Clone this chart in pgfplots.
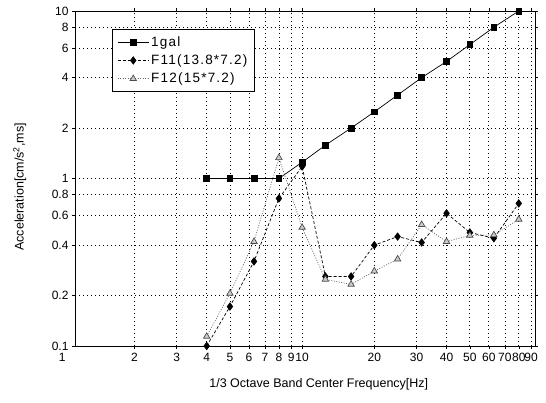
\documentclass[border=0pt]{standalone}
\usepackage{pgfplots}
\pgfplotsset{compat=1.18}
\usepackage{fontspec}
\setmainfont{Liberation Sans}
\newfontfamily\spaced[LetterSpace=9]{Liberation Sans}
\begin{document}
\begin{tikzpicture}
\useasboundingbox (-75pt,-57pt) rectangle (471pt,346pt);
\begin{axis}[
  at={(0,0)}, anchor=south west,
  scale only axis, width=460pt, height=335pt,
  xmode=log, ymode=log,
  xmin=1.13, xmax=93.5, ymin=0.1, ymax=10,
  clip=false,
  xtick={2,3,4,5,6,7,8,9,10,20,30,40,50,60,70,80,90},
  xticklabels={2,3,4,5,6,7,8,9,10,20,30,40,50,60,70,80,90},
  ytick={0.1,0.2,0.4,0.6,0.8,1,2,4,6,8,10},
  yticklabels={0.1,0.2,0.4,0.6,0.8,1,2,4,6,8,10},
  minor xtick={}, minor ytick={},
  tick label style={font=\fontsize{12}{13}\selectfont},
  xticklabel style={yshift=-1pt, inner xsep=0pt},
  tick align=outside, major tick length=3pt,
  tick style={black, line width=0.5pt},
  xmajorgrids, ymajorgrids,
  grid style={black, line width=0.6pt, dash pattern=on 0.8pt off 3.2pt},
  axis line style={black, line width=0.9pt},
  xlabel={1/3 Octave Band Center Frequency[Hz]},
  ylabel={Acceleration[cm/s\textsuperscript{2},ms]},
  label style={font=\fontsize{12.5}{14}\selectfont},
  xlabel style={at={(axis description cs:0.53,-0.113)}, anchor=center},
  ylabel style={at={(axis description cs:-0.12,0.475)}, anchor=center},
  legend style={at={(0.080,0.946)}, anchor=north west, draw=black, line width=0.9pt,
    font=\spaced\fontsize{13.5}{15}\selectfont, row sep=3pt, inner xsep=5pt, inner ysep=5pt, fill=white},
  legend cell align=left,
  legend image code/.code={\draw[mark repeat=2, mark phase=2, #1] plot coordinates {(0cm,0cm) (0.55cm,0cm) (1.1cm,0cm)};},
]
\addplot[black, line width=0.7pt, mark=square*, mark size=2.9pt, mark options={solid}]
  coordinates {(4,1.0) (5,1.0) (6.3,1.0) (8,1.0) (10,1.25) (12.5,1.58) (16,2.0) (20,2.5) (25,3.15) (31.5,4.0) (40,5.0) (50,6.3) (63,8.0) (80,10.0)};
\addlegendentry{1gal}
\addplot[black, line width=0.7pt, dash pattern=on 3pt off 2pt, mark=diamond*, mark size=3.7pt, mark options={solid}]
  coordinates {(4,0.10) (5,0.172) (6.3,0.32) (8,0.76) (10,1.18) (12.5,0.26) (16,0.26) (20,0.40) (25,0.45) (31.5,0.415) (40,0.62) (50,0.476) (63,0.44) (80,0.71)};
\addlegendentry{F11(13.8*7.2)}
\addplot[gray!80!black, line width=0.7pt, dash pattern=on 1pt off 1.5pt, mark=triangle*, mark size=3.7pt, mark options={solid, fill=gray!40, draw=gray!60!black}]
  coordinates {(4,0.114) (5,0.206) (6.3,0.42) (8,1.33) (10,0.51) (12.5,0.25) (16,0.233) (20,0.28) (25,0.33) (31.5,0.53) (40,0.42) (50,0.457) (63,0.46) (80,0.57)};
\addlegendentry{F12(15*7.2)}
\node[anchor=north, font=\fontsize{12}{13}\selectfont, inner sep=3.333pt, yshift=-4pt] at (axis cs:1,0.1) {1};
\end{axis}
\end{tikzpicture}
\end{document}
